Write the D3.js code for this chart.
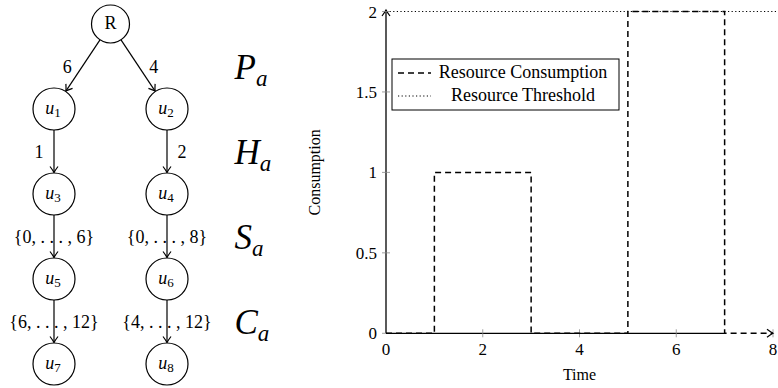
<!DOCTYPE html>
<html>
<head>
<meta charset="utf-8">
<script src="https://cdn.jsdelivr.net/npm/d3@7"></script>
<style>
  body { margin: 0; background: #fff; }
  svg { display: block; }
  text { font-family: "Liberation Serif", "Times New Roman", serif; fill: #000; }
</style>
</head>
<body>
<svg id="chart" width="778" height="388"></svg>
<script>
// step chart data
const times = [0, 1, 3, 5, 7, 8];
const consumption = [0, 1, 0, 2, 0, 0];
const threshold = 2;
const xTicks = [0, 2, 4, 6, 8];
const yTicks = [0, 0.5, 1, 1.5, 2];
const legendLabels = ['Resource Consumption', 'Resource Threshold'];

// tree data
const leftChain = ['1', '3', '5', '7'];
const rightChain = ['2', '4', '6', '8'];
const leftEdgeLabels = ['6', '1', '{0, . . . , 6}', '{6, . . . , 12}'];
const rightEdgeLabels = ['4', '2', '{0, . . . , 8}', '{4, . . . , 12}'];
const levelNames = ['P', 'H', 'S', 'C'];

const svg = d3.select('#chart');
const defs = svg.append('defs');
defs.append('marker').attr('id', 'arr').attr('viewBox', '-8 -5 10 10')
  .attr('refX', 0).attr('refY', 0).attr('markerWidth', 10).attr('markerHeight', 10)
  .attr('markerUnits', 'userSpaceOnUse').attr('orient', 'auto')
  .append('path').attr('d', 'M-6,-4 Q-2,-1 0,0 Q-2,1 -6,4')
  .attr('fill', 'none').attr('stroke', '#000').attr('stroke-width', 1.2);

// ---------- tree ----------
const chain = (ids, labels, side) => ids.reduceRight((child, id, i) =>
  ({ id, edge: labels[i], side, children: child ? [child] : undefined }), null);
const root = d3.hierarchy({ id: 'R', children: [
  chain(leftChain, leftEdgeLabels, -1), chain(rightChain, rightEdgeLabels, 1)
] });
d3.tree().nodeSize([113, 85]).separation(() => 1)(root);

const tree = svg.append('g').attr('transform', 'translate(110.5,24)');
const rad = d => d.depth === 0 ? 19 : 21;

tree.selectAll('line.edge').data(root.links()).join('line').attr('class', 'edge')
  .each(function (l) {
    const dx = l.target.x - l.source.x, dy = l.target.y - l.source.y;
    const len = Math.hypot(dx, dy), ux = dx / len, uy = dy / len;
    d3.select(this)
      .attr('x1', l.source.x + ux * rad(l.source)).attr('y1', l.source.y + uy * rad(l.source))
      .attr('x2', l.target.x - ux * (rad(l.target) + 0.5)).attr('y2', l.target.y - uy * (rad(l.target) + 0.5));
  })
  .attr('stroke', '#000').attr('stroke-width', 1.2).attr('marker-end', 'url(#arr)');

tree.selectAll('text.edge').data(root.links()).join('text').attr('class', 'edge')
  .attr('x', l => {
    const mx = (l.source.x + l.target.x) / 2;
    return l.target.data.edge.length > 2 ? mx : mx + l.target.data.side * 15;
  })
  .attr('y', l => (l.source.y + l.target.y) / 2 + 6)
  .attr('text-anchor', 'middle').style('font-size', '18px')
  .text(l => l.target.data.edge);

const nodes = tree.selectAll('g.node').data(root.descendants()).join('g').attr('class', 'node')
  .attr('transform', d => `translate(${d.x},${d.y})`);
nodes.append('circle').attr('r', rad).attr('fill', '#fff').attr('stroke', '#000').attr('stroke-width', 1.2);
nodes.each(function (d) {
  const t = d3.select(this).append('text').attr('text-anchor', 'middle').attr('y', 5).style('font-size', '18px');
  if (d.depth === 0) { t.text('R'); return; }
  t.attr('x', -1);
  t.append('tspan').style('font-style', 'italic').text('u');
  t.append('tspan').attr('dy', 3).style('font-size', '13px').text(d.data.id);
});

// level labels between tree rows
levelNames.forEach((n, i) => {
  const t = tree.append('text').attr('x', 124).attr('y', (i + 0.5) * 85 + 12)
    .style('font-size', '35px').style('font-style', 'italic');
  t.append('tspan').text(n);
  t.append('tspan').attr('dy', 7).style('font-size', '23px').text('a');
});

// ---------- step chart ----------
const x = d3.scaleLinear().domain([0, 8]).range([386, 773]);
const y = d3.scaleLinear().domain([0, 2]).range([333.3, 11.5]);
const plot = svg.append('g');

// threshold
plot.append('line').attr('x1', x(0)).attr('x2', 778).attr('y1', y(threshold)).attr('y2', y(threshold))
  .attr('stroke', '#000').attr('stroke-width', 1.2).attr('stroke-dasharray', '1.2,2.4');

// axes
plot.append('line').attr('x1', x(0)).attr('x2', x(0)).attr('y1', y(0)).attr('y2', y(2) - 1.5)
  .attr('stroke', '#000').attr('stroke-width', 1.3).attr('marker-end', 'url(#arr)');
plot.append('line').attr('x1', x(0)).attr('x2', x(times[times.length - 2])).attr('y1', y(0)).attr('y2', y(0))
  .attr('stroke', '#000').attr('stroke-width', 1.3);

plot.selectAll('line.yt').data(yTicks.slice(1)).join('line').attr('class', 'yt')
  .attr('x1', x(0) - 4).attr('x2', x(0) + 4).attr('y1', d => y(d)).attr('y2', d => y(d))
  .attr('stroke', '#888').attr('stroke-width', 0.8);
plot.selectAll('line.xt').data(xTicks.slice(1)).join('line').attr('class', 'xt')
  .attr('x1', d => x(d)).attr('x2', d => x(d)).attr('y1', y(0) - 4).attr('y2', y(0) + 4)
  .attr('stroke', '#888').attr('stroke-width', 0.8);
plot.append('line').attr('x1', x(0) - 4).attr('x2', x(0)).attr('y1', y(0)).attr('y2', y(0))
  .attr('stroke', '#888').attr('stroke-width', 0.8);

plot.selectAll('text.yl').data(yTicks).join('text').attr('class', 'yl')
  .attr('x', x(0) - 9).attr('y', d => y(d) + 6).attr('text-anchor', 'end').style('font-size', '17px')
  .text(d => d);
plot.selectAll('text.xl').data(xTicks).join('text').attr('class', 'xl')
  .attr('x', d => x(d)).attr('y', y(0) + 22).attr('text-anchor', 'middle').style('font-size', '17px')
  .text(d => d);

plot.append('text').attr('transform', `translate(320,${(y(0) + y(2)) / 2}) rotate(-90)`)
  .attr('text-anchor', 'middle').style('font-size', '16px').text('Consumption');
plot.append('text').attr('x', (x(0) + x(8)) / 2).attr('y', 380)
  .attr('text-anchor', 'middle').style('font-size', '16px').text('Time');

// consumption step line
const line = d3.line().x(d => x(d[0])).y(d => y(d[1])).curve(d3.curveStepAfter);
plot.append('path').datum(d3.zip(times, consumption)).attr('d', line)
  .attr('fill', 'none').attr('stroke', '#000').attr('stroke-width', 1.5)
  .attr('stroke-dasharray', '6,4').attr('marker-end', 'url(#arr)');

// legend
const lg = svg.append('g').attr('transform', 'translate(392,59)');
lg.append('rect').attr('width', 227).attr('height', 51).attr('fill', '#fff').attr('stroke', '#000').attr('stroke-width', 1);
const dashes = ['6,4', '1.2,2.4'];
legendLabels.forEach((t, i) => {
  const cy = 14 + i * 23;
  lg.append('line').attr('x1', 6).attr('x2', 39).attr('y1', cy).attr('y2', cy)
    .attr('stroke', '#000').attr('stroke-width', i ? 1.2 : 1.5).attr('stroke-dasharray', dashes[i]);
  lg.append('text').attr('x', 131).attr('y', cy + 5).attr('text-anchor', 'middle')
    .style('font-size', '18px').text(t);
});
</script>
</body>
</html>
